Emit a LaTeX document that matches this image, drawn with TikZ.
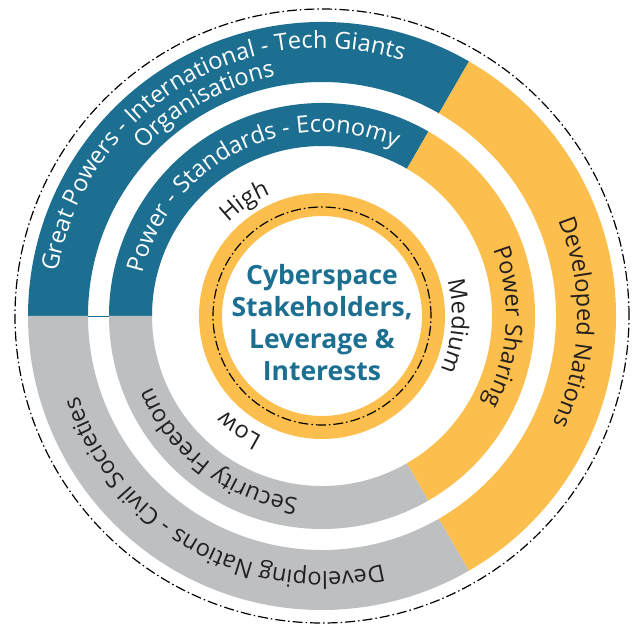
\documentclass[tikz,border=0pt]{standalone}
\usepackage{fontspec}
\setmainfont{Open Sans}
\usetikzlibrary{decorations.text}

\definecolor{bandblue}{RGB}{29,111,146}
\definecolor{bandgold}{RGB}{252,191,77}
\definecolor{bandgray}{RGB}{190,191,193}
\definecolor{ink}{RGB}{35,31,32}

% annular sector: colour, from angle, to angle, inner radius, outer radius
\newcommand\ringsector[5]{%
  \fill[#1] (#2:#5pt) arc[start angle=#2,end angle=#3,radius=#5pt]
    -- (#3:#4pt) arc[start angle=#3,end angle=#2,radius=#4pt] -- cycle;}

% clockwise label: centre angle, baseline radius, colour, text
\newcommand\arclabel[4]{%
  \path[decorate,decoration={text along path,text align=center,
    text={|\fontsize{23.6}{28}\selectfont\color{#3}|#4}}]
    (#1+80:#2pt) arc[start angle=#1+80,end angle=#1-80,radius=#2pt];}

\tikzset{
  ringline/.style={line width=1.2pt,dash pattern=on 10pt off 3pt on 1.5pt off 3pt},
}

\begin{document}
\begin{tikzpicture}[x=1pt,y=1pt]
\useasboundingbox (-322,-308) rectangle (316,316);

% outer ring of stakeholders
\ringsector{bandblue}{60}{180}{234}{294}
\ringsector{bandgray}{180}{300}{234}{294}
\ringsector{bandgold}{-60}{60}{234}{294}

% inner ring of leverage
\ringsector{bandblue}{60}{180}{170}{213}
\ringsector{bandgray}{180}{300}{170}{213}
\ringsector{bandgold}{-60}{60}{170}{213}
\draw[bandblue,line width=0.8pt] (180:213pt) -- (180:234pt);

% core
\fill[bandgold,even odd rule] (0,0) circle[radius=123] (0,0) circle[radius=100];
\draw[ringline] (0,0) circle[radius=109];
\draw[ringline] (0,0) circle[radius=307];

\node[align=center,text=bandblue,font=\bfseries\fontsize{26.5}{32}\selectfont]
  (hub) at (0,-7) {Cyberspace\\Stakeholders,\\Leverage \&\\Interests};

% labels along the rings
\arclabel{121.5}{268}{white}{Great Powers - International - Tech Giants}
\arclabel{119}{244}{white}{Organisations}
\arclabel{116.5}{184}{white}{Power - Standards - Economy}
\arclabel{124}{132}{ink}{High}
\arclabel{-4.5}{130}{ink}{Medium}
\arclabel{-3.5}{184}{ink}{Power Sharing}
\arclabel{-1.5}{255}{ink}{Developed Nations}
\arclabel{-126}{134}{ink}{Low}
\arclabel{-127.5}{184}{ink}{Security Freedom}
\arclabel{-119}{256}{ink}{Developing Nations - Civil Societies}
\end{tikzpicture}
\end{document}
